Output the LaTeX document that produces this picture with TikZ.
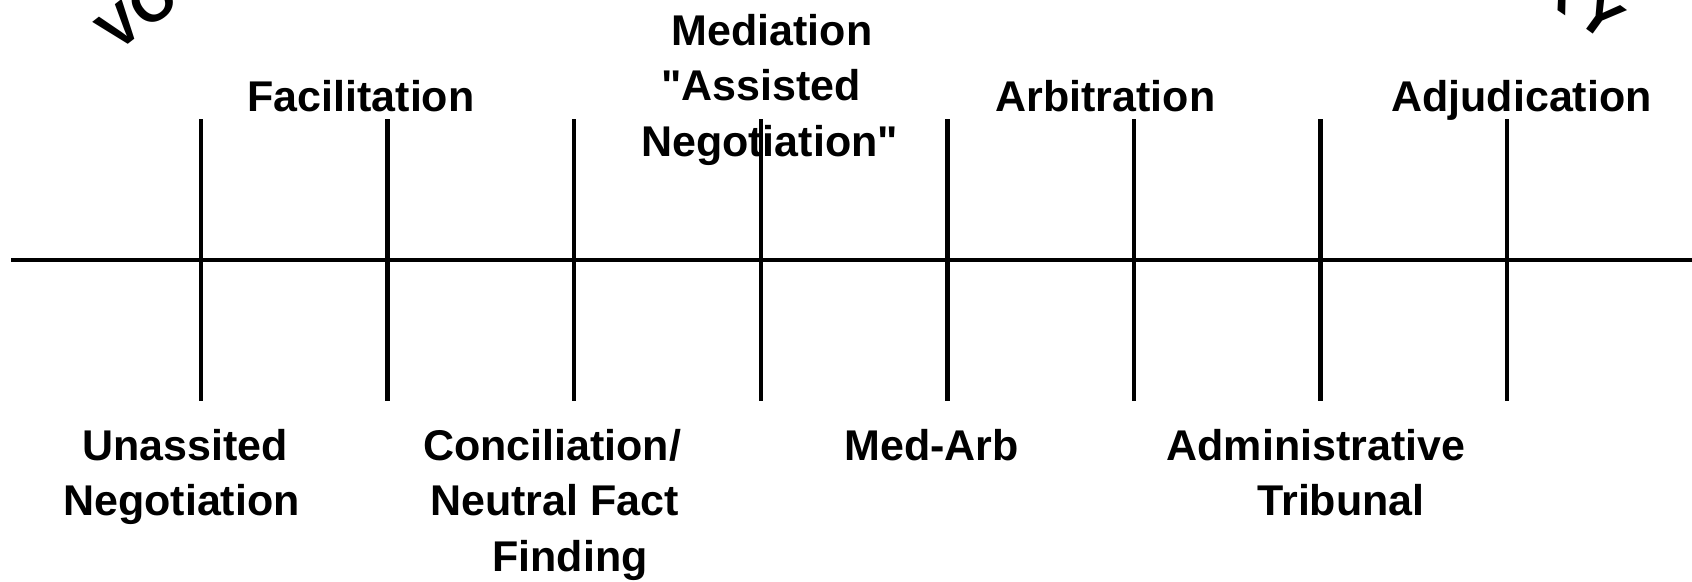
\documentclass[tikz,border=0pt]{standalone}
\usepackage{fontspec}
\setmainfont{Liberation Sans}[Ligatures=TeXOff]
\begin{document}
\begin{tikzpicture}[x=1pt,y=-1pt,
  lbl/.style={anchor=base,inner sep=0pt,font=\fontsize{43}{55}\bfseries\selectfont},
  arc/.style={inner sep=0pt,anchor=base,font=\fontsize{57}{60}\bfseries\selectfont},
  axis/.style={line width=4.6pt},
  tick/.style={line width=4.4pt}]
\useasboundingbox (0,0) rectangle (1692,581);
\clip (0,0) rectangle (1692,581);
% axis
\coordinate (L) at (11,260);
\coordinate (R) at (1692,260);
\draw[axis] (L) -- (R);
% ticks
\foreach \i/\x in {1/201,2/387.6,3/574.2,4/760.8,5/947.4,6/1134,7/1320.6,8/1507.2}{
  \coordinate (t\i) at (\x,119);
  \coordinate (b\i) at (\x,401);
  \draw[tick] (t\i) -- (b\i);
}
% top labels
\node[lbl] (fac) at (361,111.5) {Facilitation};
\node[lbl] (arb) at (1105.5,111.5) {Arbitration};
\node[lbl] (adj) at (1521.5,111.5) {Adjudication};
\node[lbl] (med1) at (772,45) {Mediation};
\node[lbl] (med2) at (761,100.5) {"Assisted};
\node[lbl] (med3) at (769.5,156) {Negotiation"};
% bottom labels
\node[lbl] (un1) at (185,460.5) {Unassited};
\node[lbl] (un2) at (181.5,515.5) {Negotiation};
\node[lbl] (con1) at (552,460.5) {Conciliation/};
\node[lbl] (con2) at (554.6,515.5) {Neutral Fact};
\node[lbl] (con3) at (570,571) {Finding};
\node[lbl] (medarb) at (931.7,460.5) {Med-Arb};
\node[lbl] (adm1) at (1316,460.5) {Administrative};
\node[lbl] (adm2) at (1341,515.5) {Tribunal};
% arched words (only ends visible)
\node[arc,rotate=38] (v) at (131,42) {V};
\node[arc,rotate=36] (o) at (164,17) {O};
\node[arc,rotate=-34] (r) at (1550,5.5) {R};
\node[arc,rotate=-36] (y) at (1590,32) {Y};
\end{tikzpicture}
\end{document}
